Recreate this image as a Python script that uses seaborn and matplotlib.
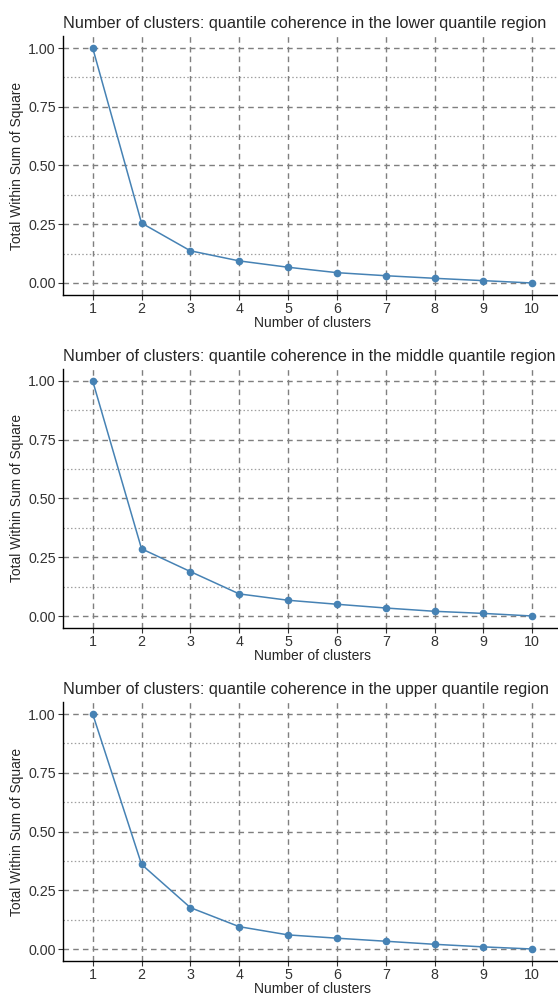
import pandas as pd
import matplotlib.pyplot as plt
import seaborn as sns

# Data: scaled total within-cluster sum of squares per number of clusters
clusters = [1, 2, 3, 4, 5, 6, 7, 8, 9, 10]
wss_lower = [1.00, 0.255, 0.137, 0.094, 0.067, 0.044, 0.031, 0.020, 0.010, 0.0]
wss_middle = [1.00, 0.286, 0.189, 0.094, 0.067, 0.050, 0.034, 0.020, 0.011, 0.0]
wss_upper = [1.00, 0.360, 0.176, 0.095, 0.060, 0.046, 0.033, 0.020, 0.009, 0.0]
regions = ['lower', 'middle', 'upper']
y_ticks = [0.0, 0.25, 0.5, 0.75, 1.0]
y_minor = [0.125, 0.375, 0.625, 0.875]

sns.set_style('white')
plt.rcParams['font.family'] = ['Liberation Sans', 'DejaVu Sans']

fig = plt.figure(figsize=(5.58, 9.96), dpi=100)
W, H = 558, 996
# axes boxes in pixels: left, top, right, bottom
boxes = [(63.4, 36.25, 561.6, 294.75),
         (63.4, 369.25, 561.6, 627.75),
         (63.4, 702.25, 561.6, 960.75)]

for wss, region, (l, t, r, b) in zip([wss_lower, wss_middle, wss_upper], regions, boxes):
    ax = fig.add_axes([l / W, 1 - b / H, (r - l) / W, (b - t) / H])
    df = pd.DataFrame({'k': clusters, 'wss': wss})

    # grid
    for yv in y_minor:
        ax.axhline(yv, color='#a0a0a0', lw=0.9, ls=(0, (1.2, 1.8)), zorder=0)
    for yv in y_ticks:
        ax.axhline(yv, color='#7f7f7f', lw=1.0, ls=(0, (4, 3)), zorder=0)
    for xv in clusters:
        ax.axvline(xv, color='#7f7f7f', lw=1.0, ls=(0, (4, 3)), zorder=0)

    sns.lineplot(data=df, x='k', y='wss', ax=ax, color='steelblue', lw=1.1,
                 marker='o', markersize=5.5, markeredgewidth=0, zorder=3)

    ax.set_xlim(0.4, 10.6)
    ax.set_ylim(-0.05, 1.05)
    ax.set_xticks(clusters)
    ax.set_xticklabels([str(c) for c in clusters])
    ax.set_yticks(y_ticks)
    ax.set_yticklabels(['0.00', '0.25', '0.50', '0.75', '1.00'])
    ax.tick_params(axis='both', direction='out', length=3.5, width=0.8,
                   color='#333333', labelsize=10.3, labelcolor='#333333', pad=2,
                   bottom=True, left=True)
    for side in ['top', 'right']:
        ax.spines[side].set_visible(False)
    for side in ['left', 'bottom']:
        ax.spines[side].set_color('black')
        ax.spines[side].set_linewidth(1.0)

    ax.set_xlabel('Number of clusters', fontsize=10, labelpad=0)
    ax.set_ylabel('Total Within Sum of Square', fontsize=9.9, labelpad=3)
    ax.set_title(f'Number of clusters: quantile coherence in the {region} quantile region',
                 fontsize=11.7, loc='left', pad=6)

fig.savefig('out.png', dpi=100)
